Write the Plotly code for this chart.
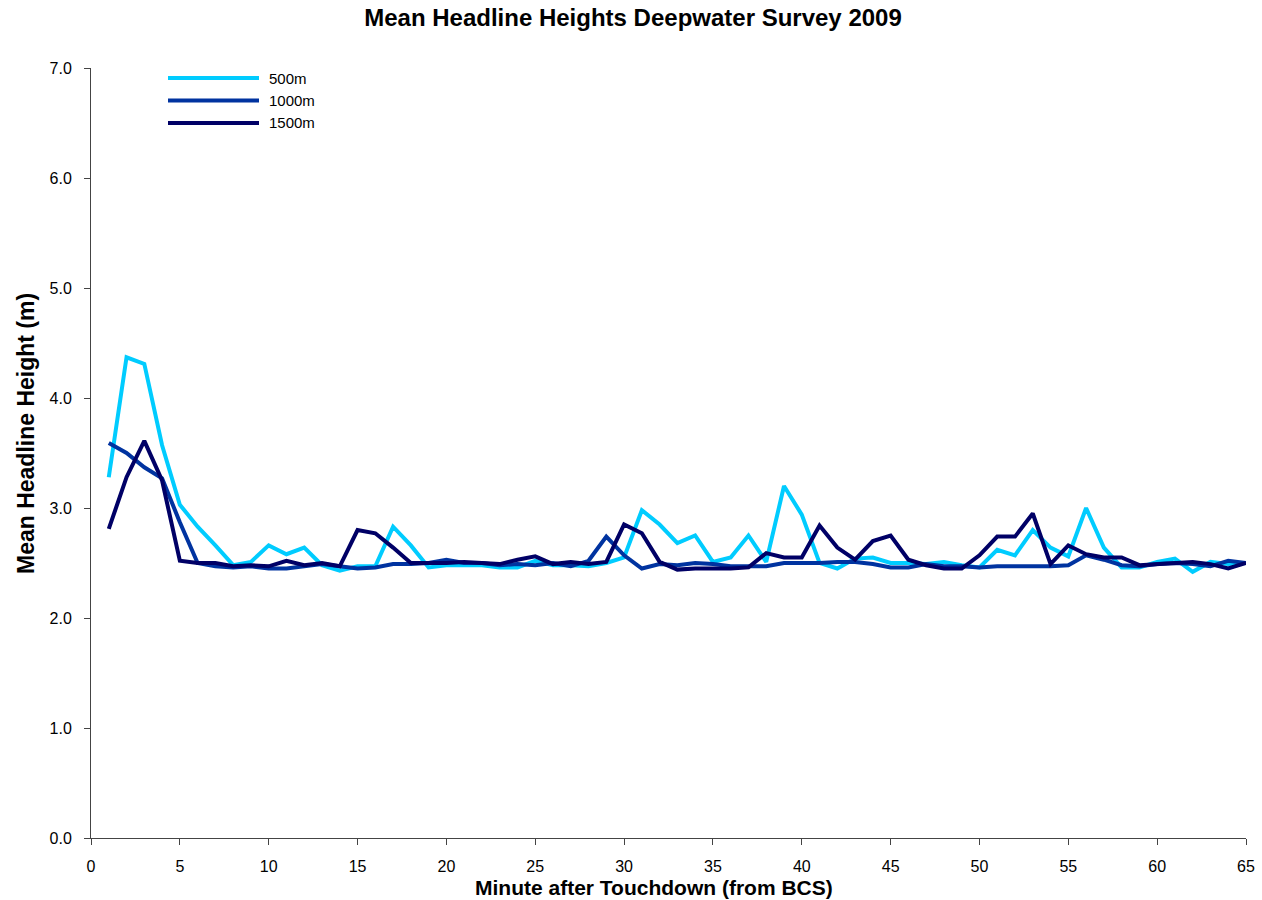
import plotly.graph_objects as go

minutes = list(range(1, 66))
s500 = [3.28, 4.37, 4.31, 3.57, 3.03, 2.83, 2.66, 2.48, 2.51, 2.66,
        2.58, 2.64, 2.48, 2.43, 2.47, 2.47, 2.83, 2.66, 2.46, 2.48,
        2.48, 2.48, 2.46, 2.46, 2.52, 2.48, 2.48, 2.47, 2.50, 2.55,
        2.98, 2.85, 2.68, 2.75, 2.51, 2.55, 2.75, 2.51, 3.20, 2.94,
        2.50, 2.45, 2.54, 2.55, 2.50, 2.50, 2.49, 2.51, 2.48, 2.46,
        2.62, 2.57, 2.80, 2.64, 2.56, 3.00, 2.64, 2.46, 2.46, 2.51,
        2.54, 2.42, 2.51, 2.49, 2.50]
s1000 = [3.59, 3.50, 3.37, 3.27, 2.87, 2.50, 2.47, 2.46, 2.47, 2.45,
         2.45, 2.47, 2.49, 2.47, 2.45, 2.46, 2.49, 2.49, 2.50, 2.53,
         2.50, 2.50, 2.48, 2.49, 2.48, 2.50, 2.47, 2.52, 2.74, 2.57,
         2.45, 2.49, 2.48, 2.50, 2.49, 2.47, 2.47, 2.47, 2.50, 2.50,
         2.50, 2.51, 2.51, 2.49, 2.46, 2.46, 2.49, 2.47, 2.47, 2.46,
         2.47, 2.47, 2.47, 2.47, 2.48, 2.57, 2.53, 2.48, 2.47, 2.49,
         2.50, 2.49, 2.47, 2.52, 2.50]
s1500 = [2.81, 3.28, 3.61, 3.25, 2.52, 2.50, 2.50, 2.47, 2.48, 2.47,
         2.52, 2.48, 2.50, 2.47, 2.80, 2.77, 2.64, 2.50, 2.50, 2.50,
         2.51, 2.50, 2.49, 2.53, 2.56, 2.49, 2.51, 2.49, 2.51, 2.85,
         2.77, 2.51, 2.44, 2.45, 2.45, 2.45, 2.46, 2.59, 2.55, 2.55,
         2.84, 2.64, 2.53, 2.70, 2.75, 2.53, 2.48, 2.45, 2.45, 2.57,
         2.74, 2.74, 2.95, 2.49, 2.66, 2.58, 2.55, 2.55, 2.48, 2.49,
         2.50, 2.51, 2.49, 2.45, 2.50]

series_names = ["500m", "1000m", "1500m"]
series_values = [s500, s1000, s1500]
colors = ["#00CCFF", "#0033A0", "#000066"]
x_title = "Minute after Touchdown (from BCS)"
y_title = "Mean Headline Height (m)"
chart_title = "Mean Headline Heights Deepwater Survey 2009"

FONT = "Arial, Liberation Sans, sans-serif"

fig = go.Figure()
for name, vals, col in zip(series_names, series_values, colors):
    fig.add_trace(go.Scatter(x=minutes, y=vals, mode="lines", name=name,
                             line=dict(color=col, width=4), showlegend=False))

W, H = 1262, 900
ml, mr, mt, mb = 91, 16, 68, 62
pw, ph = W - ml - mr, H - mt - mb
def px(x):
    return (x - ml) / pw
def py(y):
    return 1 - (y - mt) / ph

shapes = []
annotations = []
# custom legend to mimic long legend lines
for i, (name, col) in enumerate(zip(series_names, colors)):
    yy = 78 + i * 22.5
    shapes.append(dict(type="line", xref="paper", yref="paper",
                       x0=px(168), x1=px(259), y0=py(yy), y1=py(yy),
                       line=dict(color=col, width=4)))
    annotations.append(dict(x=px(267), y=py(yy), xref="paper", yref="paper",
                            text=name, showarrow=False, xanchor="left",
                            yanchor="middle",
                            font=dict(family=FONT, size=15, color="black")))
# axis titles
annotations.append(dict(x=px(654), y=py(888), xref="paper", yref="paper",
                        text="<b>" + x_title + "</b>", showarrow=False,
                        xanchor="center", yanchor="middle",
                        font=dict(family=FONT, size=21, color="black")))
annotations.append(dict(x=px(26), y=py(434), xref="paper", yref="paper",
                        text="<b>" + y_title + "</b>", showarrow=False,
                        textangle=-90, xanchor="center", yanchor="middle",
                        font=dict(family=FONT, size=23, color="black")))

fig.update_layout(
    width=W, height=H,
    margin=dict(l=ml, r=mr, t=mt, b=mb),
    paper_bgcolor="white", plot_bgcolor="white",
    title=dict(text="<b>" + chart_title + "</b>",
               x=(364 + 902) / 2 / W, xanchor="center", y=1 - 18 / H, yanchor="middle",
               font=dict(family=FONT, size=24, color="black")),
    font=dict(family=FONT, size=16, color="black"),
    shapes=shapes, annotations=annotations,
    xaxis=dict(range=[0, 65], tickmode="linear", tick0=0, dtick=5,
               showgrid=False, zeroline=False, showline=True,
               linecolor="#444444", linewidth=1, ticks="outside",
               ticklen=6, tickcolor="#444444", ticklabelstandoff=8,
               tickfont=dict(size=16), automargin=False),
    yaxis=dict(range=[0, 7], tickmode="linear", tick0=0, dtick=1,
               tickformat=".1f", showgrid=False, zeroline=False,
               showline=True, linecolor="#444444", linewidth=1,
               ticks="outside", ticklen=6, tickcolor="#444444",
               ticklabelstandoff=9, automargin=False,
               tickfont=dict(size=16)),
)

fig.write_html("out.html")
